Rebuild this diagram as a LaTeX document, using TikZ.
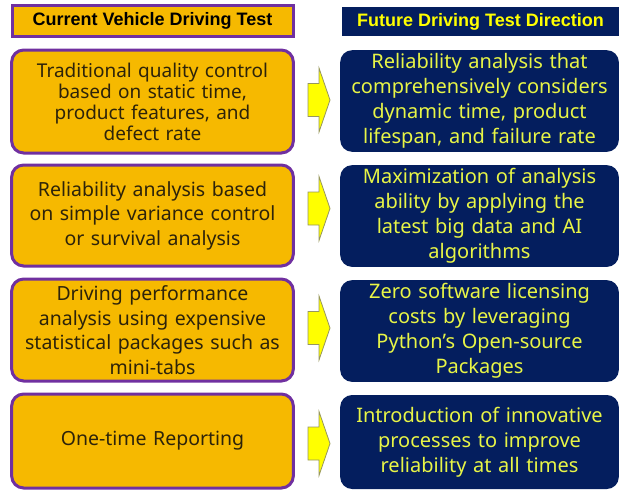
\documentclass[tikz,border=0pt]{standalone}
\usepackage{fontspec}
\setmainfont{Noto Sans}
\newfontfamily\headfont{Liberation Sans}
\definecolor{curfill}{RGB}{246,185,0}
\definecolor{curline}{RGB}{112,48,160}
\definecolor{curtext}{RGB}{45,35,10}
\definecolor{futfill}{RGB}{4,30,94}
\definecolor{futtext}{RGB}{232,245,70}
\definecolor{headtext}{RGB}{255,255,0}
\definecolor{turnfill}{RGB}{255,255,0}
\definecolor{turnline}{RGB}{150,150,95}
\tikzset{turn/.pic={\draw[draw=turnline,fill=turnfill,line width=0.8pt] (-11,-16.5) -- (0,-16.5) -- (0,-32) -- (11,0) -- (0,32) -- (0,16.5) -- (-11,16.5) -- cycle;}}
\begin{document}
\begin{tikzpicture}[x=1pt,y=-1pt,
  headcur/.style={draw=curline,line width=3pt,fill=curfill,minimum width=281pt,minimum height=31pt,font=\headfont\bfseries\fontsize{18}{20}\selectfont},
  headfut/.style={fill=futfill,text=headtext,minimum width=277pt,minimum height=29pt,font=\headfont\bfseries\fontsize{18}{20}\selectfont},
  cur/.style={draw=curline,line width=3pt,fill=curfill,rounded corners=12pt,minimum width=281pt,text width=275pt,align=center,text=curtext,font=\fontsize{19.5}{24.5}\selectfont},
  fut/.style={fill=futfill,rounded corners=12pt,minimum width=277pt,text width=272pt,align=center,text=futtext,font=\fontsize{20}{25}\selectfont}]
  \useasboundingbox (0,0) rectangle (620,490);
  \node[headcur] (hcur) at (152.5,21) {Current Vehicle Driving Test};
  \node[headfut] (hfut) at (480.5,21.5) {Future Driving Test Direction};
  \node[cur,minimum height=103pt,font=\fontsize{19}{21}\selectfont] (cur1) at (152.5,101.5) {Traditional quality control\\based on static time,\\product features, and\\defect rate};
  \node[cur,minimum height=101pt] (cur2) at (152.5,215.5) {Reliability analysis based\\on simple variance control\\or survival analysis};
  \node[cur,minimum height=102pt] (cur3) at (152.5,330) {Driving performance\\analysis using expensive\\statistical packages such as\\mini-tabs};
  \node[cur,minimum height=94pt] (cur4) at (152.5,441) {One-time Reporting};
  \node[fut,minimum height=98pt] (fut1) at (479.5,101) {Reliability analysis that\\comprehensively considers\\dynamic time, product\\lifespan, and failure rate};
  \node[fut,minimum height=98pt] (fut2) at (479.5,216) {Maximization of analysis\\ability by applying the\\latest big data and AI\\algorithms};
  \node[fut,minimum height=98pt] (fut3) at (479.5,331) {Zero software licensing\\costs by leveraging\\Python's Open-source\\Packages};
  \node[fut,minimum height=94pt] (fut4) at (479.5,442) {Introduction of innovative\\processes to improve\\reliability at all times};
  \pic (turn1) at (319,100) {turn};
  \pic (turn2) at (319,208.5) {turn};
  \pic (turn3) at (319,328) {turn};
  \pic (turn4) at (319,443.5) {turn};
\end{tikzpicture}
\end{document}
